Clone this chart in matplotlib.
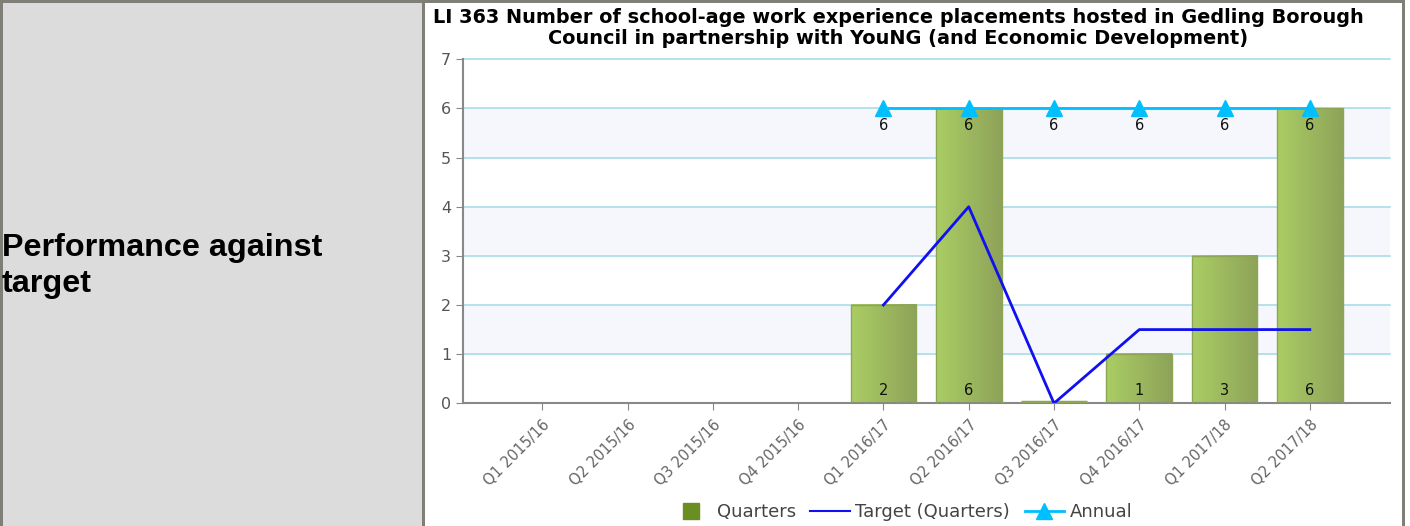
import numpy as np
import matplotlib
matplotlib.use("Agg")
import matplotlib.pyplot as plt
from matplotlib.patches import Rectangle
from matplotlib.lines import Line2D
from matplotlib.colors import LinearSegmentedColormap

# data
categories = ["Q1 2015/16", "Q2 2015/16", "Q3 2015/16", "Q4 2015/16",
              "Q1 2016/17", "Q2 2016/17", "Q3 2016/17", "Q4 2016/17",
              "Q1 2017/18", "Q2 2017/18"]
quarters = [None, None, None, None, 2, 6, 0, 1, 3, 6]
target = [None, None, None, None, 2, 4, 0, 1.5, 1.5, 1.5]
annual = [None, None, None, None, 6, 6, 6, 6, 6, 6]
quarter_labels = ["", "", "", "", "2", "6", "", "1", "3", "6"]
annual_labels = ["", "", "", "", "6", "6", "6", "6", "6", "6"]
title = ("LI 363 Number of school-age work experience placements hosted in Gedling Borough\n"
         "Council in partnership with YouNG (and Economic Development)")
row_label = "Performance against\ntarget"

W, H = 1410, 526
fig = plt.figure(figsize=(W / 100, H / 100), dpi=100)
fig.patch.set_facecolor("white")

border = "#7f7f77"
# table cells and borders, in figure pixels
def px_rect(x0, y0, x1, y1, color):
    fig.patches.append(Rectangle((x0 / W, 1 - y1 / H), (x1 - x0) / W, (y1 - y0) / H,
                                 transform=fig.transFigure, facecolor=color,
                                 edgecolor="none", zorder=0))

px_rect(3, 3, 422, H, "#dcdcdc")
px_rect(0, 0, 1405, 3, border)
px_rect(0, 0, 3, H, border)
px_rect(422, 3, 425, H, border)
px_rect(1402, 3, 1405, H, border)

fig.text(2 / W, 1 - 266 / H, row_label, family="Liberation Sans", weight="bold",
         fontsize=23.3, ha="left", va="center", linespacing=1.22)

ax = fig.add_axes([463 / W, 1 - 403.3 / H, (1390 - 463) / W, (403.3 - 59.3) / H])
x = np.arange(len(categories))

# alternating bands and grid
for lo in [1, 3, 5]:
    ax.axhspan(lo, lo + 1, color="#f5f7fd", zorder=0)
for yv in range(1, 8):
    ax.axhline(yv, color="#a9dde8", lw=1.2, zorder=1, clip_on=False)

qx = [xi for xi, v in zip(x, quarters) if v is not None]
qv = [v for v in quarters if v is not None]
bars = ax.bar(qx, qv, width=0.77, facecolor="none", edgecolor="#8da556", lw=1, zorder=3)
grad = np.linspace(0, 1, 64).reshape(1, -1)
cmap = LinearSegmentedColormap.from_list("g", ["#aacd64", "#8ea359"])
for b in bars:
    bx, bw, bh = b.get_x(), b.get_width(), b.get_height()
    if bh > 0:
        ax.imshow(grad, cmap=cmap, aspect="auto", extent=[bx, bx + bw, 0, bh], zorder=2,
                  interpolation="bilinear")
    else:
        # zero bar shows as a thin olive strip on the axis
        ax.plot([bx, bx + bw], [0.02, 0.02], color="#8da556", lw=2.5, zorder=3,
                solid_capstyle="butt")
ax.set_xlim(-0.93, 9.94)
ax.set_ylim(0, 7)

for xi, lab in zip(x, quarter_labels):
    if lab:
        ax.annotate(lab, (xi, 0), xytext=(0, 4), textcoords="offset points",
                    ha="center", va="bottom", fontsize=10.5, color="#111", zorder=6)

tx = [xi for xi, v in zip(x, target) if v is not None]
tv = [v for v in target if v is not None]
ax.plot(tx, tv, color="#1010f0", lw=2, zorder=4)

ax_x = [xi for xi, v in zip(x, annual) if v is not None]
av = [v for v in annual if v is not None]
ax.plot(ax_x, av, color="#00bfff", lw=2, marker="^", markersize=11, zorder=5)
for xi, v, lab in zip(x, annual, annual_labels):
    if lab:
        ax.annotate(lab, (xi, v), xytext=(0, -12), textcoords="offset points",
                    ha="center", va="center", fontsize=10.5, color="#111", zorder=6)

ax.set_xticks(x)
ax.set_xticklabels(categories, rotation=45, ha="right", rotation_mode="anchor",
                   fontsize=10.5, color="#666")
ax.set_yticks(range(0, 8))
ax.tick_params(axis="y", labelsize=11.5, labelcolor="#555", color="#888", length=5)
ax.tick_params(axis="x", color="#888", length=5, pad=5)
for s in ["top", "right"]:
    ax.spines[s].set_visible(False)
for s in ["left", "bottom"]:
    ax.spines[s].set_color("#888")
    ax.spines[s].set_linewidth(1.5)
ax.set_facecolor("white")

fig.text(898 / W, 1 - 28 / H, title, ha="center", va="center", fontsize=13.9,
         weight="bold", linespacing=1.1)

handles = [Line2D([], [], ls="none", marker="s", markersize=12, color="#6b8e23"),
           Line2D([], [], color="#1010f0", lw=1.5),
           Line2D([], [], color="#00bfff", lw=2, marker="^", markersize=11)]
fig.legend(handles, ["Quarters", "Target (Quarters)", "Annual"], loc="center",
           bbox_to_anchor=(902 / W, 14 / H), ncol=3, frameon=False, fontsize=13,
           labelcolor="#444", handlelength=2.2, columnspacing=0.8, handletextpad=0.3,
           borderpad=0)

fig.savefig("out.png", dpi=100)
